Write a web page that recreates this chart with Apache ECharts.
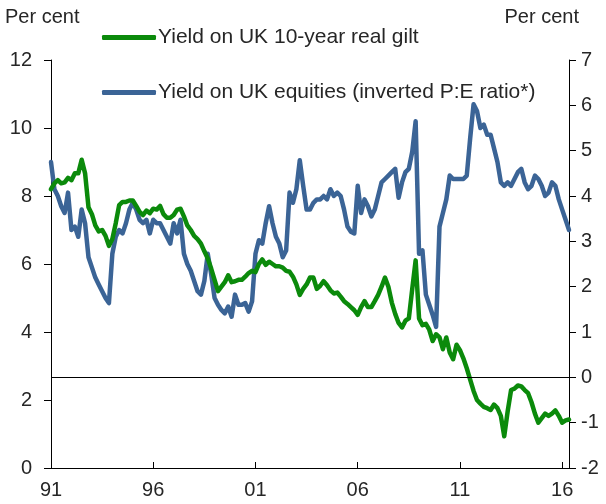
<!DOCTYPE html>
<html><head><meta charset="utf-8">
<script src="https://cdn.jsdelivr.net/npm/echarts@6/dist/echarts.min.js"></script>
<style>html,body{margin:0;padding:0;background:#fff}#c{width:606px;height:504px}</style>
</head><body><div id="c"></div><script>
// Observations, one value every 2 months starting Jan 1991
const startYear = 1991;
const stepMonths = 2;
const xTickYears = [1991, 1996, 2001, 2006, 2011, 2016];
const seriesNames = ['Yield on UK 10-year real gilt', 'Yield on UK equities (inverted P:E ratio*)'];

// Yield on UK 10-year real gilt (right axis, per cent)
const giltYield = [
  4.15, 4.28, 4.35, 4.28, 4.3, 4.4, 4.35, 4.5, 4.5, 4.8,
  4.5, 3.75, 3.6, 3.35, 3.22, 3.25, 3.12, 2.9, 3.05, 3.4,
  3.8, 3.87, 3.87, 3.9, 3.9, 3.78, 3.65, 3.58, 3.68, 3.62,
  3.72, 3.7, 3.78, 3.6, 3.52, 3.52, 3.58, 3.7, 3.72, 3.55,
  3.35, 3.25, 3.12, 3.05, 2.95, 2.78, 2.62, 2.4, 2.15, 1.9,
  2.0, 2.1, 2.25, 2.1, 2.12, 2.15, 2.15, 2.22, 2.3, 2.35,
  2.32, 2.5, 2.6, 2.48, 2.55, 2.5, 2.45, 2.45, 2.42, 2.35,
  2.33, 2.22, 2.05, 1.82, 1.95, 2.05, 2.2, 2.2, 1.95, 2.02,
  2.12, 2.03, 1.92, 1.85, 1.87, 1.78, 1.68, 1.62, 1.55, 1.48,
  1.38, 1.55, 1.68, 1.55, 1.55, 1.68, 1.82, 2.0, 2.2, 2.0,
  1.65, 1.4, 1.2, 1.1, 1.25, 1.3, 1.95, 2.58, 1.3, 1.15,
  1.18, 1.05, 0.8, 0.95, 0.88, 0.62, 0.88, 0.55, 0.4, 0.72,
  0.6, 0.42, 0.2, -0.05, -0.3, -0.5, -0.58, -0.65, -0.68, -0.72,
  -0.6, -0.68, -0.85, -1.3, -0.75, -0.28, -0.25, -0.18, -0.2, -0.28,
  -0.35, -0.55, -0.8, -1.0, -0.9, -0.8, -0.85, -0.8, -0.73, -0.85,
  -1.0, -0.95, -0.93
];

// Yield on UK equities, inverted P:E ratio (left axis, per cent)
const equityYield = [
  9.0, 8.2, 8.0, 7.7, 7.5, 8.1, 7.0, 7.1, 6.8, 7.6,
  7.2, 6.2, 5.9, 5.6, 5.4, 5.2, 5.0, 4.85, 6.3, 6.8,
  7.0, 6.9, 7.2, 7.6, 7.8, 7.6, 7.3, 7.2, 7.3, 6.9,
  7.3, 7.2, 7.2, 7.0, 6.8, 6.6, 7.2, 6.9, 7.3, 6.3,
  6.0, 5.8, 5.5, 5.2, 5.1, 5.5, 6.3, 5.7, 5.0, 4.8,
  4.65, 4.55, 4.75, 4.45, 5.1, 4.8, 4.8, 4.85, 4.6, 4.9,
  6.3, 6.7, 6.6, 7.2, 7.7, 7.2, 6.8, 6.6, 6.2, 6.4,
  8.1, 7.8, 8.2, 9.05, 8.3, 7.6, 7.6, 7.8, 7.9, 7.9,
  8.0, 7.9, 8.2, 8.0, 8.1, 8.0, 7.6, 7.1, 6.95, 6.9,
  8.3, 7.5, 7.9, 7.7, 7.4, 7.6, 8.0, 8.4, 8.5, 8.6,
  8.7, 8.8, 7.95, 8.4, 8.7, 8.8, 9.3, 10.2, 6.3, 6.4,
  5.1, 4.8, 4.5, 4.15, 7.1, 7.5, 7.9, 8.6, 8.5, 8.5,
  8.5, 8.5, 8.6, 9.7, 10.7, 10.5, 10.0, 10.1, 9.8, 9.8,
  9.4, 9.0, 8.4, 8.3, 8.4, 8.3, 8.5, 8.7, 8.8, 8.4,
  8.2, 8.3, 8.6, 8.5, 8.3, 8.0, 8.1, 8.4, 8.3, 7.9,
  7.6, 7.3, 7.0
];

const leftAxis = { min: 0, max: 12, interval: 2 };
const rightAxis = { min: -2, max: 7, interval: 1 };

const font = 'Liberation Sans, Arial, sans-serif';
const textColor = '#262626';
const toPairs = arr => arr.map((v, i) => [i * stepMonths, v]);
const tickMonths = xTickYears.map(y => (y - startYear) * 12);

const legendBase = {
  itemWidth: 54, itemHeight: 5, itemGap: 0, icon: 'roundRect',
  textStyle: { fontSize: 21, fontFamily: font, color: textColor, padding: [0, 0, 0, -3] }
};

const chart = echarts.init(document.getElementById('c'), null, { renderer: 'canvas' });
chart.setOption({
  animation: false,
  grid: { left: 51, right: 37, top: 60, bottom: 36 },
  xAxis: {
    type: 'value', min: 0, max: 304,
    axisLine: { lineStyle: { color: '#000', width: 1 } },
    axisTick: { inside: true, length: 6, customValues: tickMonths, lineStyle: { color: '#000' } },
    axisLabel: {
      customValues: tickMonths,
      formatter: v => String((startYear + Math.round(v / 12)) % 100).padStart(2, '0'),
      fontSize: 20, fontFamily: font, color: textColor, margin: 12
    },
    splitLine: { show: false }
  },
  yAxis: [
    {
      type: 'value', position: 'left', ...leftAxis,
      axisLine: { show: true, lineStyle: { color: '#000' } },
      axisTick: { show: true, length: 7, lineStyle: { color: '#000' } },
      axisLabel: { fontSize: 20, fontFamily: font, color: textColor, margin: 19 },
      splitLine: { show: false }
    },
    {
      type: 'value', position: 'right', ...rightAxis,
      axisLine: { show: true, lineStyle: { color: '#000' } },
      axisTick: { show: true, length: 7, lineStyle: { color: '#000' } },
      axisLabel: { fontSize: 20, fontFamily: font, color: textColor, margin: 12 },
      splitLine: { show: false }
    }
  ],
  legend: [
    Object.assign({ data: [seriesNames[0]], left: 97, top: 22 }, legendBase),
    Object.assign({ data: [seriesNames[1]], left: 97, top: 77 }, legendBase)
  ],
  graphic: [
    { type: 'text', left: 5, top: 7, style: { text: 'Per cent', fontSize: 20, fontFamily: font, fill: textColor } },
    { type: 'text', right: 27, top: 7, style: { text: 'Per cent', fontSize: 20, fontFamily: font, fill: textColor } }
  ],
  series: [
    {
      name: seriesNames[1], type: 'line', yAxisIndex: 0, data: toPairs(equityYield),
      symbol: 'none', smooth: false,
      lineStyle: { color: '#3b6496', width: 4.5, cap: 'round', join: 'round' },
      itemStyle: { color: '#3b6496' }, z: 2
    },
    {
      name: seriesNames[0], type: 'line', yAxisIndex: 1, data: toPairs(giltYield),
      symbol: 'none', smooth: false,
      lineStyle: { color: '#0b8a0b', width: 4.5, cap: 'round', join: 'round' },
      itemStyle: { color: '#0b8a0b' }, z: 3,
      markLine: {
        silent: true, symbol: 'none', animation: false,
        label: { show: false },
        lineStyle: { color: '#000', width: 1, type: 'solid' },
        data: [{ yAxis: 0 }]
      }
    }
  ]
});
</script></body></html>
